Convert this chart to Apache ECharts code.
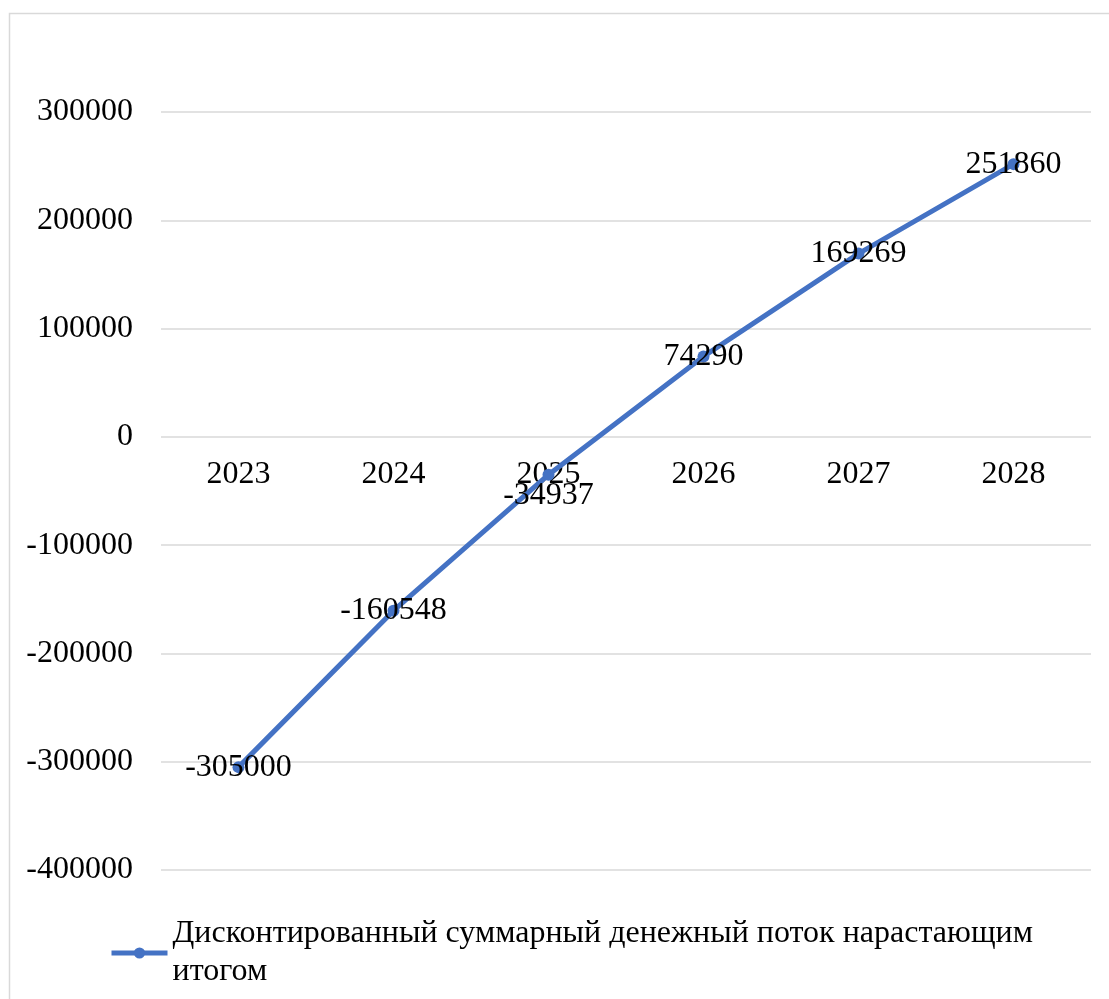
<!DOCTYPE html>
<html>
<head>
<meta charset="utf-8">
<script src="https://cdn.jsdelivr.net/npm/echarts@6/dist/echarts.min.js"></script>
<style>
html, body { margin: 0; padding: 0; background: #fff; }
#chart { width: 1109px; height: 999px; }
</style>
</head>
<body>
<div id="chart"></div>
<script>
var years = ['2023', '2024', '2025', '2026', '2027', '2028'];
var cashFlow = [-305000, -160548, -34937, 74290, 169269, 251860];
var seriesName = 'Дисконтированный суммарный денежный поток нарастающим итогом';

var font = '"Liberation Serif", "Times New Roman", serif';

// подпись 2025 года Excel сдвинул вниз, чтобы не налезала на ось
var points = [];
for (var i = 0; i < cashFlow.length; i++) {
	var p = { value: cashFlow[i] };
	if (years[i] === '2025') {
		p.label = { offset: [0, 21] };
	}
	points.push(p);
}

var option = {
	animation: false,
	backgroundColor: '#ffffff',
	textStyle: { fontFamily: font },
	graphic: [{
		type: 'rect',
		shape: { x: 9.5, y: 13.5, width: 1110, height: 1000 },
		style: { fill: 'none', stroke: '#d9d9d9', lineWidth: 1.5 },
		silent: true
	}],
	grid: {
		left: 161,
		right: 18,
		top: 112,
		bottom: 129
	},
	legend: {
		left: 104,
		top: 891,
		itemWidth: 56,
		itemHeight: 14,
		itemGap: 0,
		data: [seriesName],
		lineStyle: { width: 5 },
		formatter: function(name) {
			// перенос как в Excel: последнее слово на второй строке
			var k = name.lastIndexOf(' ');
			return name.slice(0, k) + '\n' + name.slice(k + 1);
		},
		textStyle: {
			fontFamily: font,
			fontSize: 32,
			color: '#000',
			lineHeight: 38,
			padding: [38, 0, 0, 0] // сдвиг, чтобы значок стоял на уровне первой строки
		}
	},
	xAxis: {
		type: 'category',
		data: years,
		boundaryGap: true,
		position: 'bottom',
		offset: -433, // ось проходит по нулю
		axisLine: { show: false },
		axisTick: { show: false },
		axisLabel: {
			margin: 22,
			fontFamily: font,
			fontSize: 32,
			color: '#000'
		}
	},
	yAxis: {
		type: 'value',
		min: -400000,
		max: 300000,
		interval: 100000,
		axisLine: { show: false },
		axisTick: { show: false },
		splitLine: { lineStyle: { color: '#d9d9d9', width: 1.5 } },
		axisLabel: {
			margin: 28,
			fontFamily: font,
			fontSize: 32,
			color: '#000',
			formatter: function(v) { return String(v); }
		}
	},
	series: [{
		name: seriesName,
		type: 'line',
		data: points,
		symbol: 'circle',
		symbolSize: 12,
		lineStyle: { color: '#4472c4', width: 5 },
		itemStyle: { color: '#4472c4' },
		label: {
			show: true,
			position: 'inside',
			fontFamily: font,
			fontSize: 32,
			color: '#000'
		}
	}]
};

var myChart = echarts.init(document.getElementById('chart'));
myChart.setOption(option, true);
</script>
</body>
</html>
